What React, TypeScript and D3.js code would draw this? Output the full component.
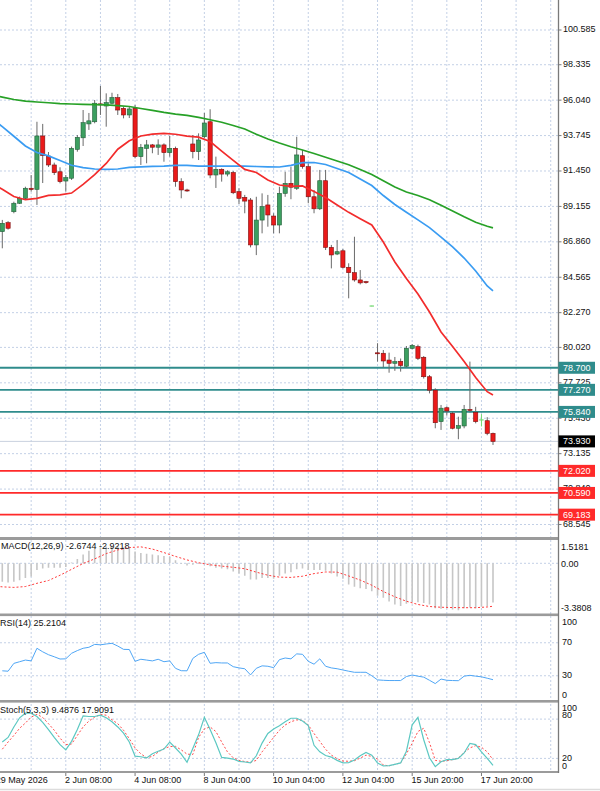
import React from "react";
import * as d3 from "d3";

// ---------- DATA ----------
const barOpen = [87.52, 88.1, 88.81, 89.36, 89.68, 90.33, 90.26, 93.72, 92.42, 91.84, 91.4, 90.8, 90.98, 92.85, 93.6, 94.5, 94.64, 95.8, 95.66, 95.84, 96.2, 95.51, 95.08, 95.51, 92.38, 92.92, 93.14, 92.99, 93.14, 92.64, 92.92, 90.76, 90.22, 93.2, 92.7, 93.67, 94.64, 91.19, 91.56, 91.25, 91.35, 90.11, 89.74, 89.57, 86.66, 88.27, 89.25, 88.53, 87.95, 90.0, 90.65, 90.33, 92.44, 91.73, 89.78, 89.0, 90.82, 86.5, 86.07, 86.28, 85.21, 84.86, 84.39, 84.28, 82.7, 79.67, 79.64, 79.2, 78.99, 79.12, 78.8, 79.96, 80.07, 79.38, 78.12, 77.25, 75.21, 76.11, 75.75, 74.78, 74.93, 76.0, 75.81, 75.32, 75.27, 74.45];
const barHigh = [88.28, 88.2, 89.46, 89.79, 90.43, 91.19, 94.64, 94.5, 92.68, 91.99, 91.69, 91.19, 93.03, 93.78, 95.4, 95.21, 96.05, 96.96, 96.48, 96.52, 96.44, 95.62, 95.66, 95.73, 93.2, 93.46, 93.2, 93.5, 93.24, 93.72, 93.03, 90.98, 90.3, 93.78, 93.89, 95.21, 95.45, 92.38, 91.62, 91.5, 91.45, 90.33, 89.9, 89.7, 89.78, 90.0, 89.9, 88.71, 90.43, 91.4, 91.73, 93.67, 92.81, 91.95, 90.22, 91.52, 91.52, 86.66, 86.98, 86.4, 85.47, 87.19, 85.03, 84.33, 82.72, 80.29, 79.85, 79.68, 79.4, 79.3, 80.11, 80.24, 80.2, 79.46, 78.23, 77.37, 76.29, 76.2, 75.85, 75.53, 76.29, 79.1, 76.17, 75.7, 75.5, 74.5];
const barLow = [86.44, 87.65, 88.71, 89.31, 89.57, 90.11, 89.25, 90.67, 91.71, 91.19, 90.65, 90.11, 90.87, 92.7, 93.07, 94.11, 94.54, 95.08, 94.32, 95.77, 95.08, 94.86, 94.88, 92.27, 91.84, 91.95, 92.6, 92.49, 92.05, 92.38, 90.43, 89.68, 90.1, 92.27, 92.16, 93.57, 90.98, 90.35, 90.76, 91.1, 89.95, 89.31, 88.71, 86.5, 86.0, 87.41, 87.84, 87.41, 87.41, 89.78, 89.62, 90.22, 91.6, 89.36, 88.71, 88.92, 86.33, 85.14, 86.0, 85.14, 83.2, 84.28, 84.1, 84.15, 82.68, 79.1, 78.73, 78.38, 78.5, 78.45, 78.73, 79.9, 79.2, 78.0, 77.04, 74.78, 74.67, 75.6, 74.71, 74.07, 74.78, 75.8, 75.1, 74.9, 74.33, 73.7];
const barClose = [88.06, 87.74, 89.36, 89.68, 90.33, 90.25, 93.72, 92.45, 91.84, 91.34, 90.76, 91.02, 92.92, 93.63, 94.58, 94.7, 95.84, 95.74, 95.88, 96.21, 95.4, 95.08, 95.47, 92.38, 92.98, 93.14, 92.99, 93.14, 92.64, 92.92, 90.76, 90.22, 90.18, 92.7, 93.46, 94.56, 91.19, 91.56, 91.25, 91.4, 90.04, 89.68, 89.5, 86.66, 88.27, 89.14, 88.6, 87.95, 90.0, 90.65, 90.4, 92.49, 91.73, 89.78, 89.0, 90.82, 86.5, 86.01, 86.22, 85.21, 84.86, 84.39, 84.2, 84.22, 82.7, 79.64, 79.14, 78.99, 79.1, 78.85, 79.96, 80.15, 79.31, 78.12, 77.25, 75.14, 76.08, 75.9, 74.78, 74.95, 76.01, 75.95, 75.21, 75.32, 74.45, 73.93];

const maIdx = [-1, 0, 2, 4, 6, 8, 10, 12, 14, 16, 18, 20, 22, 24, 26, 28, 30, 32, 34, 36, 38, 40, 42, 44, 46, 48, 50, 52, 54, 56, 58, 60, 62, 64, 66, 68, 70, 72, 74, 76, 78, 80, 82, 84, 85];
const maRed = [90.47, 90.26, 89.8, 89.59, 89.68, 89.87, 89.9, 90.02, 90.58, 91.21, 91.94, 92.86, 93.41, 93.72, 93.84, 93.89, 93.83, 93.71, 93.64, 93.36, 92.74, 92.14, 91.55, 91.35, 90.87, 90.54, 90.45, 90.48, 90.12, 89.73, 89.25, 88.77, 88.35, 87.95, 86.85, 85.55, 84.48, 83.48, 82.31, 81.02, 80.08, 79.11, 78.07, 77.15, 76.94];
const maBlue = [94.62, 94.32, 93.7, 93.07, 92.65, 92.43, 92.13, 91.82, 91.67, 91.58, 91.55, 91.58, 91.68, 91.72, 91.75, 91.77, 91.81, 91.81, 91.77, 91.77, 91.77, 91.77, 91.77, 91.74, 91.72, 91.71, 91.81, 91.99, 92.0, 91.87, 91.61, 91.35, 90.93, 90.51, 89.86, 89.28, 88.78, 88.28, 87.78, 87.17, 86.53, 85.81, 84.97, 84.0, 83.68];
const maGreen = [96.31, 96.24, 96.08, 95.98, 95.92, 95.87, 95.82, 95.79, 95.77, 95.75, 95.73, 95.69, 95.63, 95.5, 95.38, 95.25, 95.14, 95.05, 94.92, 94.77, 94.61, 94.4, 94.17, 93.83, 93.52, 93.26, 93.02, 92.81, 92.58, 92.34, 92.1, 91.85, 91.55, 91.22, 90.82, 90.41, 90.09, 89.86, 89.59, 89.23, 88.86, 88.48, 88.13, 87.87, 87.76];

const macdMain = [-1.25, -1.3, -1.25, -1.15, -1.0, -0.9, -0.45, -0.35, -0.3, -0.3, -0.3, -0.25, 0.05, 0.3, 0.6, 0.85, 1.0, 1.1, 1.15, 1.2, 1.15, 1.1, 1.05, 0.8, 0.7, 0.65, 0.6, 0.55, 0.5, 0.45, 0.2, -0.05, -0.15, -0.1, -0.05, 0.05, -0.2, -0.3, -0.35, -0.4, -0.55, -0.7, -0.85, -1.1, -1.1, -1.0, -1.0, -1.05, -0.85, -0.7, -0.6, -0.4, -0.35, -0.45, -0.45, -0.45, -0.5, -0.7, -0.9, -1.05, -1.45, -1.6, -1.7, -1.75, -1.9, -2.2, -2.35, -2.6, -2.8, -2.9, -2.75, -2.65, -2.65, -2.7, -2.8, -3.05, -3.1, -3.05, -3.15, -3.2, -3.05, -3.0, -3.05, -2.95, -2.9, -2.6744];
const macdSignal = [-1.57, -1.6, -1.64, -1.58, -1.36, -1.17, -0.81, -0.41, -0.01, 0.3, 0.66, 0.91, 1.07, 1.12, 0.97, 0.73, 0.47, 0.23, 0.04, -0.1, -0.19, -0.27, -0.37, -0.6, -0.81, -0.94, -0.96, -0.88, -0.7, -0.59, -0.6, -0.86, -1.14, -1.49, -1.92, -2.28, -2.58, -2.8, -2.94, -2.99, -3.01, -3.02, -3.02, -2.97, -2.9218];

const rsiVals = [36, 35.5, 45, 47, 49, 48, 63.3, 59, 55.5, 53, 50.3, 50.5, 57.2, 60.5, 63.3, 64.5, 68, 67.5, 68.5, 69.3, 66, 62, 61.8, 47.5, 50, 49, 48, 50, 47, 48, 39, 36.1, 36, 51, 56, 58.4, 45.1, 45.9, 45.5, 45.5, 41, 39.5, 38.5, 31, 39, 42, 41.5, 39.8, 49.5, 51.5, 50.5, 56.5, 56, 47.5, 44, 50.5, 41.5, 39.5, 38.5, 37, 35.5, 34.2, 34.2, 34.2, 30, 25, 24.5, 24.2, 24.2, 24.2, 29, 30.9, 29.5, 28.3, 24.5, 20.5, 26, 24.5, 24.2, 24, 29.5, 30.5, 29.5, 28.7, 27, 25.2104];

const stochK = [45, 52, 68, 82, 89, 89, 84, 75, 64, 52, 41, 33, 46, 64, 85, 84, 84, 86, 82, 76, 68, 58.6, 45, 23.5, 22.5, 20.7, 27, 31, 34.3, 45, 35.9, 26.5, 14, 35, 56, 82.8, 64, 44, 21.5, 20.5, 19, 15.5, 14.5, 13.1, 24, 43.4, 58, 65, 70, 76, 81.3, 81.3, 77, 70, 40, 30, 24.5, 22, 17, 13.1, 13.5, 17.5, 24, 29, 25, 13, 8.5, 9, 11, 13.1, 31, 71.2, 82.8, 48.5, 21, 7.5, 15, 18.2, 18.2, 20, 28.3, 43, 41, 30, 20, 9.4876];
const stochD = [34, 45, 55, 66, 74, 83, 87.4, 82.5, 73, 63, 51, 41, 42, 55, 68, 77, 83, 87, 86, 79, 73, 63, 50, 36, 27, 21, 23, 29.5, 35, 38, 38.4, 33, 26.5, 26, 52, 65, 68, 61, 45, 30, 21, 17, 15.2, 14.1, 17, 30, 41, 52, 63, 71, 76, 78.8, 78, 71, 58, 46, 34, 25, 19.5, 16, 15.6, 16.5, 20.5, 25, 23, 19, 10, 8.5, 11, 13.1, 27, 43, 61.1, 66, 44, 17, 15.6, 16.5, 18.2, 20.5, 29, 36, 39.5, 37, 30, 17.9091];

const priceTicks = ["100.585", "98.335", "96.040", "93.745", "91.450", "89.155", "86.860", "84.565", "82.270", "80.020", "77.725", "75.430", "73.135", "70.840", "68.545"];
const tealLevels = [78.7, 77.27, 75.84];
const redLevels = [72.02, 70.59, 69.183];
const currentPrice = 73.93;
const macdTicks = [1.5181, 0, -3.3808];
const macdTickLabels = ["1.5181", "0.00", "-3.3808"];
const rsiTicks = [100, 70, 30, 0];
const stochTicks = [100, 80, 20, 0];
const timeLabels = ["29 May 2026", "2 Jun 08:00", "4 Jun 08:00", "8 Jun 04:00", "10 Jun 04:00", "12 Jun 04:00", "15 Jun 20:00", "17 Jun 20:00"];
const timeLabelBars = [-1, 11, 23, 35, 47, 59, 71, 83];

const macdTitle = "MACD(12,26,9) -2.6744 -2.9218";
const rsiTitle = "RSI(14) 25.2104";
const stochTitle = "Stoch(5,3,3) 9.4876 17.9091";

// ---------- LAYOUT ----------
const W = 600;
const H = 791;
const AXIS_X = 558.5;
const FONT = "'Liberation Sans', Arial, sans-serif";
const GRID = "#c3d0e6";

export default function App() {
  const x = d3.scaleLinear().domain([0, 85]).range([2.3, 493]);
  const yP = d3.scaleLinear().domain([68.545, 100.585]).range([524.5, 30]);
  const yM = d3.scaleLinear().domain([-3.3808, 1.5181]).range([613, 541]);
  const yR = d3.scaleLinear().domain([0, 100]).range([700.5, 618]);
  const yS = d3.scaleLinear().domain([0, 100]).range([771.5, 706]);

  const gridBars = d3.range(-1, 96, 6);

  const maLine = (vals: number[]) =>
    d3.line<number>().x((_, i) => x(maIdx[i])).y((v) => yP(v))(vals) || "";
  const sigLine =
    d3.line<number>().x((_, i) => x(maIdx[i])).y((v) => yM(v))(macdSignal) || "";
  const rsiLine = d3.line<number>().x((_, i) => x(i)).y((v) => yR(v))(rsiVals) || "";
  const kLine = d3.line<number>().x((_, i) => x(i)).y((v) => yS(v))(stochK) || "";
  const dLine = d3.line<number>().x((_, i) => x(i)).y((v) => yS(v))(stochD) || "";

  const rsiLabelY = (v: number) => Math.min(Math.max(yR(v), 622.3), 696);
  const stochLabelY = (v: number) => {
    const y = yS(v);
    if (v === 100) return 709;
    if (v === 80) return 716;
    if (v === 0) return 766.7;
    return y;
  };

  const textStyle = { fontFamily: FONT, fontSize: 9 } as const;

  return (
    <div style={{ position: "absolute", left: 0, top: 0 }}>
      <svg width={W} height={H} style={{ display: "block", background: "#fff" }}>
        <defs>
          <clipPath id="mainClip">
            <rect x={0} y={0} width={AXIS_X} height={537} />
          </clipPath>
          <clipPath id="macdClip">
            <rect x={0} y={540} width={AXIS_X} height={73.5} />
          </clipPath>
          <clipPath id="rsiClip">
            <rect x={0} y={616} width={AXIS_X} height={84} />
          </clipPath>
          <clipPath id="stochClip">
            <rect x={0} y={702.5} width={AXIS_X} height={69} />
          </clipPath>
        </defs>
        <rect x={0} y={0} width={W} height={H} fill="#fff" />

        {/* vertical grid */}
        {gridBars.map((b) => (
          <line key={"vg" + b} x1={x(b)} x2={x(b)} y1={0} y2={771} stroke={GRID} strokeDasharray="2,2" />
        ))}

        {/* main horizontal grid */}
        {priceTicks.map((t) => (
          <line key={"hg" + t} x1={0} x2={AXIS_X} y1={yP(+t)} y2={yP(+t)} stroke={GRID} strokeDasharray="2,2" />
        ))}

        {/* indicator grids */}
        <line x1={0} x2={AXIS_X} y1={yM(0)} y2={yM(0)} stroke={GRID} strokeDasharray="2,2" />
        {[70, 30].map((v) => (
          <line key={"rg" + v} x1={0} x2={AXIS_X} y1={yR(v)} y2={yR(v)} stroke={GRID} strokeDasharray="2,2" />
        ))}
        {[80, 20].map((v) => (
          <line key={"sg" + v} x1={0} x2={AXIS_X} y1={yS(v)} y2={yS(v)} stroke={GRID} strokeDasharray="2,2" />
        ))}

        {/* main panel */}
        <g clipPath="url(#mainClip)">
          <line x1={0} x2={AXIS_X} y1={yP(currentPrice)} y2={yP(currentPrice)} stroke="#c9d1de" strokeWidth={1} />
          {tealLevels.map((v) => (
            <line key={"tl" + v} x1={0} x2={AXIS_X} y1={yP(v)} y2={yP(v)} stroke="#2f8c8c" strokeWidth={1.8} />
          ))}
          {redLevels.map((v) => (
            <line key={"rl" + v} x1={0} x2={AXIS_X} y1={yP(v)} y2={yP(v)} stroke="#ff2a2a" strokeWidth={1.8} />
          ))}

          {barOpen.map((o, i) => {
            const c = barClose[i];
            const cx = x(i);
            const doji = o === c;
            const bull = c > o;
            const top = yP(Math.max(o, c));
            const bot = yP(Math.min(o, c));
            return (
              <g key={"c" + i}>
                <line x1={cx} x2={cx} y1={yP(barHigh[i])} y2={yP(barLow[i])} stroke={doji ? "#72d872" : "#6a6a6a"} strokeWidth={1} />
                {doji ? (
                  <line x1={cx - 2.2} x2={cx + 2.2} y1={top} y2={top} stroke="#72d872" strokeWidth={1.2} />
                ) : (
                  <rect
                    x={cx - 2.1}
                    y={top}
                    width={4.2}
                    height={Math.max(bot - top, 1)}
                    fill={bull ? "#3c9f60" : "#ea1a1a"}
                    stroke={bull ? "#245f3a" : "#7c1010"}
                    strokeWidth={0.6}
                  />
                )}
              </g>
            );
          })}

          <path d={maLine(maGreen)} fill="none" stroke="#27a127" strokeWidth={1.7} />
          <path d={maLine(maBlue)} fill="none" stroke="#3a9cf2" strokeWidth={1.7} />
          <path d={maLine(maRed)} fill="none" stroke="#f22c2c" strokeWidth={1.7} />
        </g>

        {/* MACD panel */}
        <g clipPath="url(#macdClip)">
          {macdMain.map((v, i) => (
            <line key={"m" + i} x1={x(i)} x2={x(i)} y1={yM(0)} y2={yM(v)} stroke="#c6c6c6" strokeWidth={1.6} />
          ))}
          <path d={sigLine} fill="none" stroke="#ff3b3b" strokeWidth={1} strokeDasharray="2,2" />
        </g>

        {/* RSI panel */}
        <g clipPath="url(#rsiClip)">
          <path d={rsiLine} fill="none" stroke="#4fa6f5" strokeWidth={1} />
        </g>

        {/* Stoch panel */}
        <g clipPath="url(#stochClip)">
          <path d={dLine} fill="none" stroke="#ff4a4a" strokeWidth={1} strokeDasharray="2,2" />
          <path d={kLine} fill="none" stroke="#5cc8c2" strokeWidth={1.2} />
        </g>

        {/* panel separators */}
        <rect x={0} y={537} width={AXIS_X} height={3} fill="#9b9b9b" />
        <rect x={0} y={613.5} width={AXIS_X} height={2.6} fill="#9b9b9b" />
        <rect x={0} y={700} width={AXIS_X} height={2.6} fill="#9b9b9b" />
        <rect x={0} y={771} width={AXIS_X} height={2} fill="#9b9b9b" />

        {/* right axis */}
        <line x1={AXIS_X} x2={AXIS_X} y1={0} y2={773} stroke="#7a7a7a" strokeWidth={1.3} />

        {/* price labels */}
        {priceTicks.map((t) => (
          <g key={"pl" + t}>
            <line x1={AXIS_X} x2={AXIS_X + 3} y1={yP(+t)} y2={yP(+t)} stroke="#7a7a7a" />
            <text x={563} y={yP(+t)} dominantBaseline="middle" fill="#111" style={textStyle}>
              {t}
            </text>
          </g>
        ))}

        {/* level boxes */}
        {tealLevels.map((v) => (
          <g key={"tb" + v}>
            <rect x={AXIS_X} y={yP(v) - 6} width={36.5} height={12} fill="#2f8c8c" />
            <text x={563} y={yP(v) + 0.5} dominantBaseline="middle" fill="#fff" style={textStyle}>
              {v.toFixed(3)}
            </text>
          </g>
        ))}
        {redLevels.map((v) => (
          <g key={"rb" + v}>
            <rect x={AXIS_X} y={yP(v) - 6} width={36.5} height={12} fill="#ff2a2a" />
            <text x={563} y={yP(v) + 0.5} dominantBaseline="middle" fill="#fff" style={textStyle}>
              {v.toFixed(3)}
            </text>
          </g>
        ))}
        <rect x={AXIS_X} y={yP(currentPrice) - 6} width={36.5} height={12} fill="#000" />
        <text x={563} y={yP(currentPrice) + 0.5} dominantBaseline="middle" fill="#fff" style={textStyle}>
          {currentPrice.toFixed(3)}
        </text>

        {/* MACD labels */}
        {macdTicks.map((v, i) => {
          const y = i === 0 ? yM(v) + 6.3 : i === 2 ? yM(v) - 4.7 : yM(v) + 1;
          return (
            <text key={"ml" + i} x={561} y={y} dominantBaseline="middle" fill="#111" style={textStyle}>
              {macdTickLabels[i]}
            </text>
          );
        })}
        {/* RSI labels */}
        {rsiTicks.map((v) => (
          <text key={"rsl" + v} x={562} y={rsiLabelY(v)} dominantBaseline="middle" fill="#111" style={textStyle}>
            {v}
          </text>
        ))}
        {/* Stoch labels */}
        {stochTicks.map((v) => (
          <text key={"stl" + v} x={562} y={stochLabelY(v)} dominantBaseline="middle" fill="#111" style={textStyle}>
            {v}
          </text>
        ))}

        {/* indicator titles */}
        <text x={1} y={547} dominantBaseline="middle" fill="#111" style={textStyle}>
          {macdTitle}
        </text>
        <text x={0} y={624} dominantBaseline="middle" fill="#111" style={textStyle}>
          {rsiTitle}
        </text>
        <text x={0} y={711} dominantBaseline="middle" fill="#111" style={textStyle}>
          {stochTitle}
        </text>

        {/* time axis */}
        {timeLabelBars.map((b, i) => (
          <g key={"tx" + b}>
            <line x1={x(b)} x2={x(b)} y1={773} y2={776} stroke="#7a7a7a" />
            <text x={x(b) - 0.8} y={781} dominantBaseline="middle" fill="#111" style={textStyle}>
              {timeLabels[i]}
            </text>
          </g>
        ))}
        <line x1={0} x2={W} y1={789.5} y2={789.5} stroke="#dcdcdc" strokeWidth={1.5} />
      </svg>
    </div>
  );
}
